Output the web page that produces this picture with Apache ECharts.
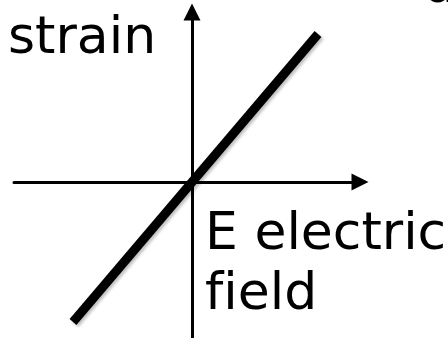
<!DOCTYPE html>
<html>
<head>
<meta charset="utf-8">
<script src="https://cdn.jsdelivr.net/npm/echarts@6/dist/echarts.min.js"></script>
<style>html,body{margin:0;padding:0;background:#fff}#c{width:448px;height:338px}</style>
</head>
<body>
<div id="c"></div>
<script>
// Axis ranges (arbitrary units, origin at crossing)
const xRange = [-1.78, 1.68];
const yRange = [-1.56, 1.70];
// Linear strain vs electric field line
const lineX = [-1.19, 1.26];
const lineY = [-1.40, 1.48];
const yLabel = 'strain';
const xLabel = 'E electric\nf\u200Cield';

const chart = echarts.init(document.getElementById('c'), null, {renderer: 'canvas'});
const font = '"DejaVu Sans", Verdana, sans-serif';
chart.setOption({
  animation: false,
  backgroundColor: '#fff',
  grid: {left: 14, right: 88, top: 12, bottom: 0, containLabel: false},
  xAxis: {
    type: 'value', min: xRange[0], max: xRange[1],
    axisLine: {onZero: true, lineStyle: {color: '#000', width: 3}, symbol: ['none', 'triangle'], symbolSize: [17, 17], symbolOffset: [0, 0]},
    axisTick: {show: false}, axisLabel: {show: false}, splitLine: {show: false}
  },
  yAxis: {
    type: 'value', min: yRange[0], max: yRange[1],
    axisLine: {onZero: true, lineStyle: {color: '#000', width: 3}, symbol: ['none', 'triangle'], symbolSize: [17, 17], symbolOffset: [0, 0]},
    axisTick: {show: false}, axisLabel: {show: false}, splitLine: {show: false}
  },
  series: [{
    type: 'line',
    data: lineX.map((x, i) => [x, lineY[i]]),
    showSymbol: false,
    lineStyle: {color: '#000', width: 9, cap: 'butt', shadowColor: 'rgba(0,0,0,0.25)', shadowBlur: 3, shadowOffsetX: 2, shadowOffsetY: 2},
    z: 5
  }],
  graphic: [
    {type: 'text', left: 8, top: 13, style: {text: yLabel, font: '52px ' + font, fill: '#000'}},
    {type: 'text', left: 205, top: 205, style: {text: xLabel, font: '52px ' + font, fill: '#000', lineHeight: 60}},
    {type: 'text', left: 423, top: -38, style: {text: 'd', font: '52px ' + font, fill: '#000'}}
  ]
});
</script>
</body>
</html>
